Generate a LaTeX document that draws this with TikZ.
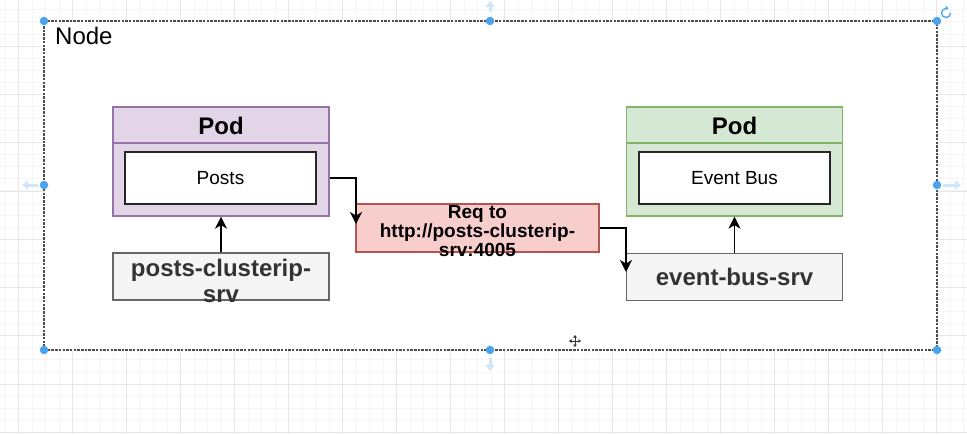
\documentclass[tikz,border=0pt]{standalone}
\usepackage{fontspec}
\setmainfont{Liberation Sans}
\usetikzlibrary{arrows.meta}

\definecolor{podPurple}{HTML}{E1D5E7}
\definecolor{podPurpleLine}{HTML}{9673A6}
\definecolor{podGreen}{HTML}{D5E8D4}
\definecolor{podGreenLine}{HTML}{82B366}
\definecolor{reqRed}{HTML}{F8CECC}
\definecolor{reqRedLine}{HTML}{B85450}
\definecolor{srvGray}{HTML}{F5F5F5}
\definecolor{srvGrayLine}{HTML}{666666}
\definecolor{srvText}{HTML}{333333}
\definecolor{handleBlue}{HTML}{4AA3EE}
\definecolor{hintBlue}{HTML}{CFE6FA}
\definecolor{gridMinor}{HTML}{F5F5F5}
\definecolor{gridMajor}{HTML}{E6E6E6}

\begin{document}
\begin{tikzpicture}[
    x=1pt, y=-1pt,
    pod/.style={rectangle, draw, line width=1.3pt, minimum width=216pt, minimum height=109pt, inner sep=0pt},
    podtitle/.style={inner sep=0pt, font=\fontsize{24}{28}\selectfont\bfseries},
    app/.style={rectangle, draw=black!85, fill=white, line width=1.3pt, minimum width=191pt, minimum height=52pt, inner sep=0pt, font=\fontsize{19}{22}\selectfont},
    srv/.style={rectangle, draw=srvGrayLine, fill=srvGray, line width=1.3pt, minimum width=216pt, minimum height=47pt, inner sep=0pt},
    srvtext/.style={inner sep=0pt, align=center, text=srvText, font=\fontsize{24}{26}\selectfont\bfseries},
    arrow/.style={->, >={Stealth[length=12pt, width=12pt, inset=3.5pt]}, line width=1.5pt},
    handle/.style={circle, fill=handleBlue, inner sep=0pt, minimum size=8.5pt},
    hint/.style={-{Triangle[length=6pt, width=9pt]}, draw=hintBlue, line width=3pt}
]
    % canvas grid
    \useasboundingbox (0,0) rectangle (967,434);
    \fill[white] (0,0) rectangle (967,434);
    \foreach \i in {0,...,72} \draw[gridMinor, line width=0.8pt] ({5.2+13.5*\i},0) -- ++(0,434);
    \foreach \i in {0,...,38} \draw[gridMinor, line width=0.8pt] (0,{9.8+12.07*\i}) -- ++(967,0);
    \foreach \i in {0,...,17} \draw[gridMajor, line width=0.8pt] ({18.7+54*\i},0) -- ++(0,434);
    \foreach \i in {0,...,8} \draw[gridMajor, line width=0.8pt] (0,{46+48.3*\i}) -- ++(967,0);

    % the node (selected)
    \node[rectangle, draw=black!70, fill=white, line width=1.2pt, dash pattern=on 2.5pt off 1.2pt,
          minimum width=893pt, minimum height=329pt, inner sep=0pt] (node) at (490.5,185.5) {};
    \node[anchor=west, inner sep=0pt, font=\fontsize{24}{28}\selectfont] (nodeLabel) at (55,36) {Node};

    % pod with posts
    \node[pod, fill=podPurple, draw=podPurpleLine] (podPosts) at (221,161.5) {};
    \draw[podPurpleLine, line width=1.3pt] (podPosts.west |- 0,143) -- (podPosts.east |- 0,143);
    \node[podtitle] (podPostsTitle) at (221,126) {Pod};
    \node[app] (posts) at (220.5,178) {Posts};

    % pod with event bus
    \node[pod, fill=podGreen, draw=podGreenLine] (podBus) at (734.5,161.5) {};
    \draw[podGreenLine, line width=1.3pt] (podBus.west |- 0,143) -- (podBus.east |- 0,143);
    \node[podtitle] (podBusTitle) at (734.5,126) {Pod};
    \node[app] (bus) at (734.5,178) {Event Bus};

    % services
    \node[srv] (postsSrv) at (221,276.5) {};
    \node[srvtext] (postsSrvText) at (221,281) {posts-clusterip-\\srv};
    \node[srv] (busSrv) at (734.5,277) {};
    \node[srvtext] (busSrvText) at (734.5,277) {event-bus-srv};

    % request
    \node[rectangle, draw=reqRedLine, fill=reqRed, line width=1.2pt, minimum width=243pt, minimum height=48pt, inner sep=0pt] (req) at (477.5,228) {};
    \node[inner sep=0pt, align=center, font=\fontsize{19}{19}\selectfont\bfseries] (reqText) at (477.5,231) {Req to\\http://posts-clusterip-\\srv:4005};

    \coordinate (reqIn) at (356,224);
    \coordinate (busIn) at (626,272);

    \draw[arrow] (postsSrv) -- (podPosts);
    \draw[arrow] (busSrv) -- (podBus);
    \draw[arrow] (posts.east -| podPosts.east) -| (reqIn);
    \draw[arrow] (req.east) -| (busIn);

    % selection handles
    \foreach \hx/\hy [count=\k] in {44/21, 490/21, 937/21, 44/185, 937/185, 44/350, 490/350, 937/350}
        \node[handle] (handle\k) at (\hx,\hy) {};
    \draw[hint] (490,12) -- (490,1);
    \draw[hint] (490,358) -- (490,371);
    \draw[hint] (38,185) -- (22,185);
    \draw[hint] (943,185) -- (961,185);
    \draw[handleBlue, line width=1.3pt, -{Triangle[length=3pt, width=4pt]}] (950.5,13) arc (0:300:4.5);
    % move cursor
    \draw[black!80, line width=1pt, <->, >={Triangle[length=2.5pt, width=3.5pt]}] (569,341) -- (581,341);
    \draw[black!80, line width=1pt, <->, >={Triangle[length=2.5pt, width=3.5pt]}] (575,335) -- (575,347);
\end{tikzpicture}
\end{document}
